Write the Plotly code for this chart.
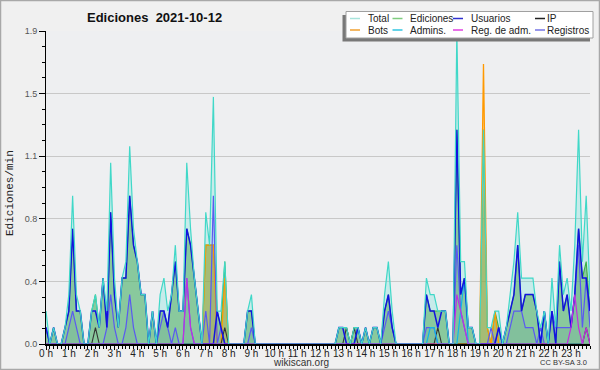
import plotly.graph_objects as go

# 10-minute slots over the day (minutes from midnight)
slot_minutes = list(range(0, 1440, 10))

# Edits counted per 10-minute slot (chart shows them per minute, i.e. /10)
total_10 = [
    2, 0, 1, 0, 0, 1,      # 0 h
    3, 9, 3, 2, 0, 0,      # 1 h
    2, 3, 1, 4, 2, 11,     # 2 h
    4, 1, 4, 5, 12, 7,     # 3 h
    5, 3, 3, 0, 2, 0,      # 4 h
    3, 4, 2, 3, 6, 2,      # 5 h
    2, 11, 7, 4, 2, 0,     # 6 h
    8, 6, 15, 2, 2, 5,     # 7 h
    0, 0, 0, 0, 0, 2,      # 8 h
    3, 0, 0, 0, 0, 0,      # 9 h
    0, 0, 0, 0, 0, 0,      # 10 h
    0, 0, 0, 0, 0, 0,      # 11 h
    0, 0, 0, 0, 0, 1,      # 12 h
    1, 1, 0, 1, 1, 0,      # 13 h
    1, 0, 1, 1, 0, 3,      # 14 h
    5, 2, 0, 0, 0, 0,      # 15 h
    0, 0, 0, 0, 4, 3,      # 16 h
    3, 2, 2, 2, 0, 0,      # 17 h
    19, 5, 5, 1, 1, 0,     # 18 h
    0, 13, 1, 1, 2, 2,     # 19 h
    0, 1, 3, 5, 8, 4,      # 20 h
    4, 4, 4, 2, 1, 2,      # 21 h
    0, 4, 1, 6, 3, 4,      # 22 h
    2, 6, 13, 5, 9, 3,     # 23 h
]
edits_10 = [
    1, 0, 1, 0, 0, 1,
    2, 7, 2, 2, 0, 0,
    2, 3, 1, 4, 1, 8,
    3, 1, 4, 4, 9, 6,
    5, 3, 3, 0, 2, 0,
    2, 2, 1, 3, 5, 2,
    2, 7, 6, 4, 2, 0,
    6, 6, 6, 2, 1, 5,
    0, 0, 0, 0, 0, 2,
    2, 0, 0, 0, 0, 0,
    0, 0, 0, 0, 0, 0,
    0, 0, 0, 0, 0, 0,
    0, 0, 0, 0, 0, 1,
    1, 1, 0, 1, 1, 0,
    1, 0, 1, 1, 0, 2,
    3, 1, 0, 0, 0, 0,
    0, 0, 0, 0, 3, 2,
    2, 2, 2, 2, 0, 0,
    13, 3, 4, 1, 1, 0,
    0, 13, 1, 0, 2, 1,
    0, 1, 2, 3, 6, 2,
    3, 3, 3, 2, 0, 2,
    0, 2, 0, 5, 2, 3,
    1, 3, 7, 4, 5, 2,
]
users_10 = [
    1, 0, 1, 0, 0, 1,
    2, 7, 2, 2, 0, 0,
    2, 2, 1, 4, 1, 8,
    3, 1, 4, 4, 9, 6,
    5, 3, 3, 0, 2, 0,
    2, 2, 1, 3, 5, 2,
    2, 7, 6, 4, 2, 0,
    0, 0, 0, 2, 1, 0,
    0, 0, 0, 0, 0, 2,
    2, 0, 0, 0, 0, 0,
    0, 0, 0, 0, 0, 0,
    0, 0, 0, 0, 0, 0,
    0, 0, 0, 0, 0, 1,
    1, 0, 0, 0, 1, 0,
    1, 0, 1, 1, 0, 2,
    3, 1, 0, 0, 0, 0,
    0, 0, 0, 0, 3, 2,
    2, 1, 2, 2, 0, 0,
    13, 3, 4, 1, 1, 0,
    0, 0, 0, 0, 0, 1,
    0, 1, 2, 3, 6, 2,
    3, 3, 3, 2, 0, 2,
    0, 2, 0, 5, 2, 3,
    1, 3, 7, 4, 4, 2,
]
ip_10 = [
    0, 0, 0, 0, 0, 0,
    0, 0, 0, 0, 0, 0,
    0, 1, 0, 0, 0, 0,
    0, 0, 0, 0, 0, 0,
    0, 0, 0, 0, 0, 0,
    0, 0, 0, 0, 0, 0,
    0, 0, 0, 0, 0, 0,
    0, 0, 0, 0, 0, 1,
    0, 0, 0, 0, 0, 0,
    0, 0, 0, 0, 0, 0,
    0, 0, 0, 0, 0, 0,
    0, 0, 0, 0, 0, 0,
    0, 0, 0, 0, 0, 0,
    0, 1, 0, 1, 0, 0,
    0, 0, 0, 0, 0, 0,
    0, 0, 0, 0, 0, 0,
    0, 0, 0, 0, 0, 0,
    0, 1, 0, 0, 0, 0,
    0, 0, 0, 0, 0, 0,
    0, 0, 0, 0, 0, 0,
    0, 0, 0, 0, 0, 0,
    0, 0, 0, 0, 0, 0,
    0, 0, 0, 0, 0, 0,
    0, 0, 0, 0, 1, 0,
]
bots_10 = [0] * 42 + [6, 6, 6, 0, 0, 4] + [0] * 66 + [0, 17, 1, 0, 2, 0] + [0] * 24
admins_10 = [0] * 82 + [1] + [0] * 18 + [1, 1] + [0] * 6 + [2, 4] + [0] * 20 + [2] + [0] * 12
admin_logs_10 = [0] * 37 + [4, 1] + [0] * 69 + [3, 2, 1] + [0] * 27 + [1, 3, 1, 0, 1, 0]
logs_10 = [
    1, 0, 0, 0, 0, 0,
    1, 2, 1, 0, 0, 0,
    0, 0, 0, 0, 1, 3,
    1, 0, 0, 1, 3, 1,
    0, 0, 0, 0, 0, 0,
    1, 2, 1, 0, 1, 0,
    0, 4, 1, 0, 0, 0,
    2, 0, 9, 0, 1, 0,
    0, 0, 0, 0, 0, 0,
    1, 0, 0, 0, 0, 0,
    0, 0, 0, 0, 0, 0,
    0, 0, 0, 0, 0, 0,
    0, 0, 0, 0, 0, 0,
    0, 0, 0, 0, 0, 0,
    0, 0, 0, 0, 0, 1,
    2, 1, 0, 0, 0, 0,
    0, 0, 0, 0, 1, 1,
    1, 0, 0, 0, 0, 0,
    6, 2, 1, 0, 0, 0,
    0, 0, 0, 1, 0, 1,
    0, 0, 1, 2, 2, 2,
    1, 1, 1, 0, 1, 0,
    0, 2, 1, 1, 1, 1,
    1, 3, 6, 1, 4, 1,
]

hour_ticks = list(range(0, 1440, 60))
hour_labels = [f"{h} h" for h in range(24)]
y_major = [0, 0.38, 0.76, 1.14, 1.52, 1.9]
y_labels = ["0.0", "0.4", "0.8", "1.1", "1.5", "1.9"]
y_minor = [k * 0.095 for k in range(21) if k % 4]

legend_items = [
    ("Total", "#a8e4dc"), ("Ediciones", "#7fcc7f"), ("Usuarios", "#3030d0"), ("IP", "#222222"),
    ("Bots", "#f0a030"), ("Admins.", "#30c4e0"), ("Reg. de adm.", "#e040e0"), ("Registros", "#7474e4"),
]


def per_min(vals):
    return [v / 10 for v in vals]


W, H = 600, 370
ML, MR, MT, MB = 46, 10, 31, 26
PW, PH = W - ML - MR, H - MT - MB


def px(x):
    return (x - ML) / PW


def py(y):
    return (H - MB - y) / PH


fig = go.Figure()
fig.add_trace(go.Scatter(x=slot_minutes, y=per_min(total_10), mode="lines", fill="tozeroy",
                         fillcolor="rgba(64,224,208,0.22)", line=dict(width=0, color="rgba(0,0,0,0)")))
fig.add_trace(go.Scatter(x=slot_minutes, y=per_min(logs_10), mode="lines", fill="tozeroy",
                         fillcolor="rgba(90,90,220,0.12)", line=dict(width=0, color="rgba(0,0,0,0)")))
fig.add_trace(go.Scatter(x=slot_minutes, y=per_min(edits_10), mode="lines", fill="tozeroy",
                         fillcolor="rgba(76,168,80,0.5)", line=dict(width=1.1, color="#3cb043")))
fig.add_trace(go.Scatter(x=slot_minutes, y=per_min(bots_10), mode="lines", fill="tozeroy",
                         fillcolor="rgba(255,150,0,0.25)", line=dict(width=1.3, color="#ff9900")))
fig.add_trace(go.Scatter(x=slot_minutes, y=per_min(ip_10), mode="lines",
                         line=dict(width=1.1, color="#333333")))
fig.add_trace(go.Scatter(x=slot_minutes, y=per_min(logs_10), mode="lines",
                         line=dict(width=1.2, color="#5a5af0")))
fig.add_trace(go.Scatter(x=slot_minutes, y=per_min(admins_10), mode="lines",
                         line=dict(width=1.2, color="#10b4e8")))
fig.add_trace(go.Scatter(x=slot_minutes, y=per_min(users_10), mode="lines",
                         line=dict(width=1.5, color="#1212e0")))
fig.add_trace(go.Scatter(x=slot_minutes, y=per_min(admin_logs_10), mode="lines",
                         line=dict(width=1.2, color="#c030e0")))
fig.add_trace(go.Scatter(x=slot_minutes, y=per_min(total_10), mode="lines",
                         line=dict(width=1.2, color="#40d8c8")))

fig.update_layout(
    template="none",
    width=W, height=H, autosize=False,
    margin=dict(l=ML, r=MR, t=MT, b=MB, pad=0, autoexpand=False),
    paper_bgcolor="#f0f0f0", plot_bgcolor="#eeeff1",
    showlegend=False,
    hovermode=False,
    font=dict(family="Liberation Sans, Arial, sans-serif", color="#222"),
)
fig.update_xaxes(
    automargin=False,
    range=[0, 1430], tickmode="array", tickvals=hour_ticks, ticktext=hour_labels,
    ticks="outside", ticklen=4, tickcolor="black", tickwidth=1,
    ticklabelstandoff=-5,
    showline=True, linecolor="black", linewidth=1.5, showgrid=False, zeroline=False,
    tickfont=dict(size=10, color="#222"),
    minor=dict(tickmode="array", tickvals=slot_minutes, ticks="outside", ticklen=3,
               tickcolor="black", tickwidth=1, showgrid=False),
)
fig.update_yaxes(
    automargin=False,
    range=[0, 1.9], tickmode="array", tickvals=y_major, ticktext=y_labels,
    ticks="outside", ticklen=6, tickcolor="black", tickwidth=1,
    showline=True, linecolor="black", linewidth=1, showgrid=True, gridcolor="#c8c8c8", gridwidth=1,
    zeroline=False, tickfont=dict(size=9, color="#555"),
    minor=dict(tickmode="array", tickvals=y_minor, ticks="outside", ticklen=3,
               tickcolor="black", tickwidth=1, showgrid=False),
)

shapes = []
annotations = []
# outer border
shapes.append(dict(type="rect", xref="paper", yref="paper", x0=px(0.5), x1=px(599.5), y0=py(0.5), y1=py(369.5),
                   line=dict(color="#a8a8a8", width=1.5), fillcolor="rgba(0,0,0,0)", layer="above"))
# legend shadow and box
shapes.append(dict(type="rect", xref="paper", yref="paper", x0=px(342.5), x1=px(590), y0=py(15), y1=py(41.5),
                   line=dict(width=0), fillcolor="#787878", layer="above"))
shapes.append(dict(type="rect", xref="paper", yref="paper", x0=px(346), x1=px(593), y0=py(11.5), y1=py(38),
                   line=dict(color="#a0a0a0", width=1), fillcolor="#ffffff", layer="above"))
col_sample_x = [350, 392.5, 453, 535]
col_text_x = [366, 408, 469, 545]
row_y = [18.5, 30]
for k, (name, color) in enumerate(legend_items):
    c, r = k % 4, k // 4
    shapes.append(dict(type="line", xref="paper", yref="paper",
                       x0=px(col_sample_x[c]), x1=px(col_sample_x[c] + 10), y0=py(row_y[r]), y1=py(row_y[r]),
                       line=dict(color=color, width=1.5), layer="above"))
    annotations.append(dict(xref="paper", yref="paper", x=px(col_text_x[c]), y=py(row_y[r]),
                            text=name, showarrow=False, xanchor="left", yanchor="middle",
                            font=dict(size=10, color="#222", family="Liberation Sans, Arial, sans-serif")))

annotations.append(dict(xref="paper", yref="paper", x=px(154), y=py(17.5),
                        text="<b>Ediciones\u00a0\u00a02021-10-12</b>", showarrow=False,
                        xanchor="center", yanchor="middle",
                        font=dict(size=13, color="#111", family="Liberation Sans, Arial, sans-serif")))
annotations.append(dict(xref="paper", yref="paper", x=px(10), y=py(193),
                        text="Ediciones/min", showarrow=False, textangle=-90,
                        xanchor="center", yanchor="middle",
                        font=dict(size=11, color="#222", family="Liberation Mono, DejaVu Sans Mono, monospace")))
annotations.append(dict(xref="paper", yref="paper", x=px(300.5), y=py(362),
                        text="wikiscan.org", showarrow=False, xanchor="center", yanchor="middle",
                        font=dict(size=10, color="#333", family="Liberation Sans, Arial, sans-serif")))
annotations.append(dict(xref="paper", yref="paper", x=px(589), y=py(362.5),
                        text="CC BY-SA 3.0", showarrow=False, xanchor="right", yanchor="middle",
                        font=dict(size=7.5, color="#333", family="Liberation Sans, Arial, sans-serif")))

fig.update_layout(shapes=shapes, annotations=annotations)
fig.write_html(
    "out.html",
    config={"displayModeBar": False, "staticPlot": True},
    post_script="document.body.style.margin='0';document.body.style.padding='0';"
                "document.body.style.overflow='hidden';",
)
